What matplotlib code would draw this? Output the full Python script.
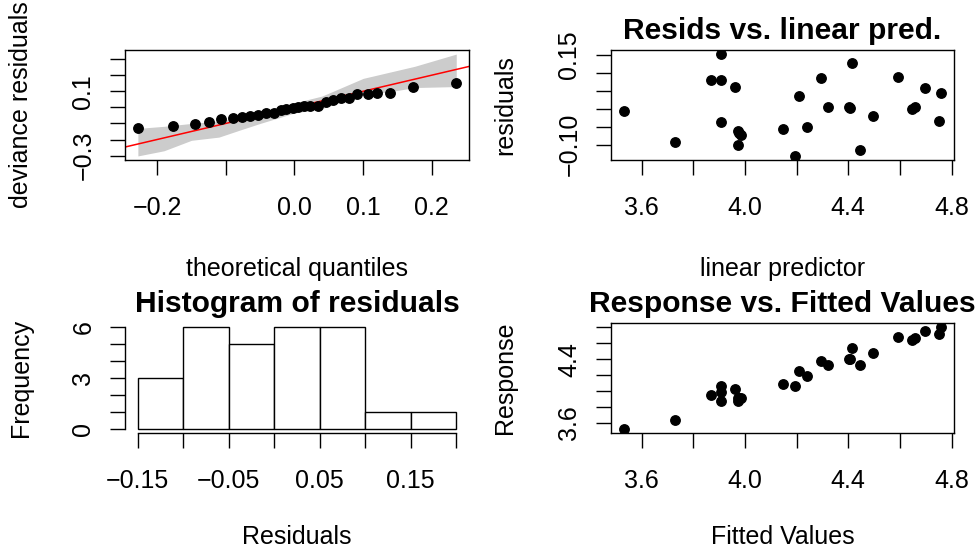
import numpy as np
import matplotlib
matplotlib.use("Agg")
import matplotlib.pyplot as plt

plt.rcParams['font.family'] = ['Liberation Sans', 'DejaVu Sans']

FONT = 18
TITLE_FONT = 21.6
MINUS = '\u2212'

# linear predictor / fitted values, residuals and response
fitted = [3.531, 3.728, 3.868, 3.906, 3.906, 3.907, 3.963, 3.973, 3.984, 3.974, 3.978,
          4.147, 4.193, 4.210, 4.240, 4.294, 4.323, 4.401, 4.405, 4.414, 4.445, 4.495,
          4.594, 4.646, 4.658, 4.696, 4.760, 4.752]
residuals = [-0.0075, -0.0925, 0.081, 0.152, 0.081, -0.038, 0.060, -0.061, -0.074, -0.102, -0.067,
             -0.056, -0.131, 0.036, -0.0502, 0.086, 0.006, 0.006, 0.002, 0.128, -0.114, -0.019,
             0.087, -0.002, 0.006, 0.058, 0.0425, -0.034]
response = [3.523, 3.636, 3.949, 4.056, 3.988, 3.869, 4.023, 3.912, 3.910, 3.872, 3.911,
            4.091, 4.062, 4.246, 4.190, 4.380, 4.329, 4.407, 4.407, 4.542, 4.331, 4.476,
            4.681, 4.644, 4.664, 4.754, 4.802, 4.718]

# theoretical quantiles of the qq plot
theo_quantiles = [-0.2282, -0.1771, -0.1450, -0.1246, -0.1071, -0.0895, -0.0769, -0.0642,
                  -0.0530, -0.0418, -0.0297, -0.0190, -0.0117, -0.0019, 0.0058, 0.0136,
                  0.0224, 0.0345, 0.0457, 0.0555, 0.0676, 0.0788, 0.0905, 0.1066,
                  0.1207, 0.1392, 0.1723, 0.2355]

# reference band of the qq plot
band_x = [-0.228, -0.19, -0.15, -0.11, -0.08, -0.05, 0.0, 0.04, 0.10, 0.14, 0.175, 0.2355]
band_hi = [-0.131, -0.118, -0.100, -0.085, -0.065, -0.035, 0.028, 0.070, 0.180, 0.220, 0.255, 0.331]
band_lo = [-0.302, -0.270, -0.205, -0.185, -0.142, -0.100, -0.035, -0.008, 0.080, 0.098, 0.123, 0.129]

hist_breaks = [-0.15, -0.10, -0.05, 0.0, 0.05, 0.10, 0.15, 0.20]

W, H = 977, 550
fig = plt.figure(figsize=(W / 100, H / 100), dpi=100)


def px_axes(left, top, right, bottom):
    return fig.add_axes([left / W, 1 - bottom / H, (right - left) / W, (bottom - top) / H])


def lab(v, fmt):
    s = fmt.format(v)
    return s.replace('-', MINUS)


def style(ax, xticks, xshow, xfmt, yticks, yshow, yfmt, xlabel, ylabel, ylab_x, xlab_y=-0.882):
    ax.set_xticks(xticks, [lab(v, xfmt) if v in xshow else '' for v in xticks])
    ax.set_yticks(yticks, [lab(v, yfmt) if v in yshow else '' for v in yticks])
    ax.tick_params(direction='out', length=10.8, width=1.0, labelsize=FONT, color='black')
    ax.tick_params(axis='x', pad=15)
    ax.tick_params(axis='y', pad=10.5)
    for t in ax.yaxis.get_major_ticks():
        t.label1.set_rotation(90)
        t.label1.set_va('center')
    for sp in ax.spines.values():
        sp.set_linewidth(1.0)
    ax.set_xlabel(xlabel, fontsize=FONT)
    ax.xaxis.set_label_coords(0.5, xlab_y)
    ax.set_ylabel(ylabel, fontsize=FONT)
    ax.yaxis.set_label_coords(ylab_x, 0.5)


pred_ticks = [3.6, 3.8, 4.0, 4.2, 4.4, 4.6, 4.8]
MS = 6.8

# qq plot
ax = px_axes(125, 50, 469, 160)
ax.fill_between(band_x, band_lo, band_hi, color='#cccccc', lw=0)
ax.axline((0, 0), slope=1, color='red', lw=1.1)
ax.plot(theo_quantiles, np.sort(residuals), 'o', color='black', ms=MS, ls='none')
ax.margins(0.04)
style(ax, [-0.2, -0.1, 0.0, 0.1, 0.2], [-0.2, 0.0, 0.1, 0.2], '{:.1f}',
      [-0.3, -0.2, -0.1, 0.0, 0.1, 0.2, 0.3], [-0.3, 0.1], '{:.1f}',
      'theoretical quantiles', 'deviance residuals', -0.267)

# residuals vs linear predictor
ax = px_axes(611, 50, 954, 160)
ax.plot(fitted, residuals, 'o', color='black', ms=MS, ls='none')
ax.margins(0.04)
style(ax, pred_ticks, [3.6, 4.0, 4.4, 4.8], '{:.1f}',
      [-0.10, -0.05, 0.0, 0.05, 0.10, 0.15], [-0.10, 0.15], '{:.2f}',
      'linear predictor', 'residuals', -0.274)
ax.set_title('Resids vs. linear pred.', fontsize=TITLE_FONT, fontweight='bold', pad=8)

# histogram
ax = px_axes(125, 323, 469, 433)
ax.hist(residuals, bins=hist_breaks, facecolor='white', edgecolor='black', linewidth=1.0)
ax.set_xlim(-0.164, 0.214)
ax.set_ylim(-0.24, 6.24)
style(ax, hist_breaks, [-0.15, -0.05, 0.05, 0.15], '{:.2f}',
      [0, 1, 2, 3, 4, 5, 6], [0, 3, 6], '{:d}',
      'Residuals', 'Frequency', -0.267, xlab_y=-0.84)
ax.spines['top'].set_visible(False)
ax.spines['right'].set_visible(False)
ax.spines['left'].set_bounds(0, 6)
ax.spines['bottom'].set_bounds(-0.15, 0.20)
ax.set_title('Histogram of residuals', fontsize=TITLE_FONT, fontweight='bold', pad=8)

# response vs fitted
ax = px_axes(611, 323, 954, 433)
ax.plot(fitted, response, 'o', color='black', ms=MS, ls='none')
ax.margins(0.04)
style(ax, pred_ticks, [3.6, 4.0, 4.4, 4.8], '{:.1f}',
      pred_ticks, [3.6, 4.4], '{:.1f}',
      'Fitted Values', 'Response', -0.274, xlab_y=-0.84)
ax.set_title('Response vs. Fitted Values', fontsize=TITLE_FONT, fontweight='bold', pad=8)

fig.savefig('out.png', dpi=100)
